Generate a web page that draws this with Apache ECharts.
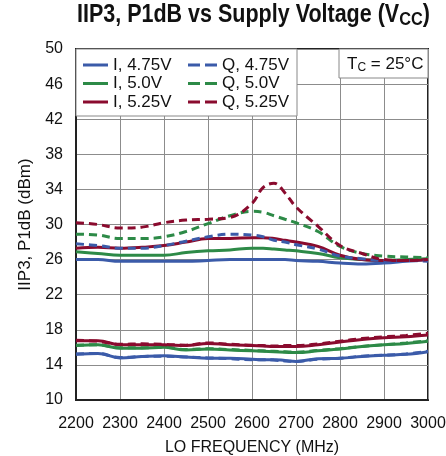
<!DOCTYPE html>
<html>
<head>
<meta charset="utf-8">
<script src="https://cdn.jsdelivr.net/npm/echarts@6/dist/echarts.min.js"></script>
<style>
  html, body { margin: 0; padding: 0; background: #fff; }
  #chart { width: 446px; height: 456px; }
</style>
</head>
<body>
<div id="chart"></div>
<script>
// LO frequency sample points (MHz)
const freqs = [2200, 2250, 2300, 2350, 2400, 2450, 2500, 2550, 2600, 2625, 2650, 2675, 2700, 2750, 2800, 2850, 2900, 2950, 3000];

// IIP3 (dBm)
const iip3_I_475 = [26.0, 26.0, 25.8, 25.8, 25.8, 25.8, 25.9, 26.0, 26.0, 26.0, 26.0, 26.0, 25.9, 25.8, 25.6, 25.5, 25.6, 25.8, 26.0];
const iip3_I_500 = [26.9, 26.7, 26.5, 26.5, 26.5, 26.8, 27.0, 27.1, 27.3, 27.3, 27.2, 27.1, 27.0, 26.7, 26.2, 26.0, 25.9, 26.0, 26.1];
const iip3_I_525 = [27.3, 27.4, 27.3, 27.4, 27.6, 28.0, 28.4, 28.4, 28.5, 28.5, 28.4, 28.2, 28.0, 27.5, 26.5, 26.0, 25.9, 25.9, 26.0];
const iip3_Q_475 = [27.8, 27.6, 27.3, 27.3, 27.6, 28.1, 28.6, 28.9, 28.8, 28.6, 28.2, 28.0, 27.7, 27.2, 26.4, 26.1, 25.9, 25.9, 25.8];
const iip3_Q_500 = [28.9, 28.8, 28.4, 28.4, 28.6, 29.2, 30.1, 31.0, 31.5, 31.4, 31.0, 30.6, 30.2, 29.2, 27.5, 26.7, 26.4, 26.3, 26.2];
const iip3_Q_525 = [30.2, 30.0, 29.6, 29.7, 30.2, 30.5, 30.6, 30.8, 32.4, 34.2, 34.7, 33.6, 32.0, 29.8, 27.6, 26.7, 26.0, 25.9, 26.0];

// P1dB (dBm)
const p1db_I_475 = [15.2, 15.3, 14.8, 14.95, 15.05, 14.9, 14.75, 14.75, 14.65, 14.6, 14.6, 14.5, 14.4, 14.7, 14.75, 14.95, 15.1, 15.2, 15.5];
const p1db_I_500 = [16.2, 16.3, 15.9, 15.9, 16.0, 15.7, 15.8, 15.7, 15.6, 15.55, 15.5, 15.45, 15.4, 15.6, 15.8, 16.1, 16.3, 16.45, 16.7];
const p1db_I_525 = [16.75, 16.75, 16.3, 16.3, 16.3, 16.2, 16.45, 16.3, 16.2, 16.15, 16.1, 16.1, 16.1, 16.3, 16.6, 16.9, 17.1, 17.2, 17.4];
const p1db_Q_475 = [15.25, 15.3, 14.85, 14.95, 15.0, 14.9, 14.8, 14.7, 14.6, 14.6, 14.55, 14.45, 14.4, 14.65, 14.75, 15.0, 15.1, 15.25, 15.55];
const p1db_Q_500 = [16.25, 16.3, 15.95, 15.95, 16.0, 15.75, 15.85, 15.75, 15.65, 15.6, 15.55, 15.5, 15.45, 15.65, 15.85, 16.1, 16.3, 16.5, 16.75];
const p1db_Q_525 = [16.8, 16.7, 16.35, 16.4, 16.35, 16.25, 16.5, 16.35, 16.25, 16.2, 16.15, 16.2, 16.2, 16.4, 16.7, 17.0, 17.2, 17.35, 17.6];

const seriesNames = ['I, 4.75V', 'I, 5.0V', 'I, 5.25V', 'Q, 4.75V', 'Q, 5.0V', 'Q, 5.25V'];
const yTicks = [10, 14, 18, 22, 26, 30, 34, 38, 42, 46, 50];
const xTicks = [2200, 2300, 2400, 2500, 2600, 2700, 2800, 2900, 3000];

const BLUE = '#3b5ba9';
const GREEN = '#2d8a47';
const RED = '#8a0b2e';
const FONT = '"Liberation Sans", Arial, sans-serif';

// legend swatches: a solid bar and a two-dash bar
const SOLID_ICON = 'path://M0,0h25v3h-25z';
const DASH_ICON = 'path://M0,0h12v3h-12zM17,0h12v3h-12z';

const pairs = (vals) => freqs.map((f, i) => [f, vals[i]]);

const curves = [
  { name: 'I, 4.75V', color: BLUE, dash: 'solid', iip3: iip3_I_475, p1db: p1db_I_475 },
  { name: 'I, 5.0V', color: GREEN, dash: 'solid', iip3: iip3_I_500, p1db: p1db_I_500 },
  { name: 'I, 5.25V', color: RED, dash: 'solid', iip3: iip3_I_525, p1db: p1db_I_525 },
  { name: 'Q, 4.75V', color: BLUE, dash: [8, 5], iip3: iip3_Q_475, p1db: p1db_Q_475 },
  { name: 'Q, 5.0V', color: GREEN, dash: [8, 5], iip3: iip3_Q_500, p1db: p1db_Q_500 },
  { name: 'Q, 5.25V', color: RED, dash: [8, 5], iip3: iip3_Q_525, p1db: p1db_Q_525 }
];

const series = [];
curves.forEach((c) => {
  ['iip3', 'p1db'].forEach((k) => {
    series.push({
      name: c.name,
      type: 'line',
      data: pairs(c[k]),
      symbol: 'none',
      smooth: 0.4,
      color: c.color,
      itemStyle: { color: c.color },
      lineStyle: { color: c.color, width: 3, type: c.dash },
      z: 3
    });
  });
});

// curve group labels
series.push({
  type: 'line',
  data: [],
  symbol: 'none',
  markPoint: {
    symbol: 'none',
    label: { show: true, color: '#111', fontFamily: FONT, fontSize: 16, position: 'inside' },
    data: [
      { coord: [2592, 36.2], value: 'IIP3', label: { formatter: 'IIP3' } },
      { coord: [2593, 18.1], value: 'P1dB', label: { formatter: 'P1dB', backgroundColor: '#fff', padding: [0, 4, 0, 4] } }
    ]
  }
});

const legendText = { fontFamily: FONT, fontSize: 17, color: '#111', lineHeight: 18 };

const chart = echarts.init(document.getElementById('chart'), null, { renderer: 'canvas' });

chart.setOption({
  animation: false,
  backgroundColor: '#fff',
  grid: {
    left: 76, right: 18, top: 49, bottom: 56,
    outerBoundsMode: 'none',
    containLabel: false,
    show: true, borderColor: '#222', borderWidth: 2, backgroundColor: 'transparent'
  },
  legend: [
    {
      data: seriesNames.slice(0, 3).map((n) => ({ name: n, icon: SOLID_ICON })),
      orient: 'vertical',
      left: 83, top: 56, padding: 0,
      itemWidth: 25, itemHeight: 3, itemGap: 0.5,
      textStyle: legendText,
      z: 6
    },
    {
      data: seriesNames.slice(3).map((n) => ({ name: n, icon: DASH_ICON })),
      orient: 'vertical',
      left: 188, top: 56, padding: 0,
      itemWidth: 29, itemHeight: 3, itemGap: 0.5,
      textStyle: legendText,
      z: 6
    }
  ],
  graphic: [
    {
      type: 'text', z: 5,
      x: 77, y: 0,
      scaleX: 0.86,
      style: {
        text: '{b|IIP3, P1dB vs Supply Voltage (V}{s|CC}{b|)}',
        rich: {
          b: { fontFamily: FONT, fontWeight: 'bold', fontSize: 25, fill: '#111', lineHeight: 30 },
          s: { fontFamily: FONT, fontWeight: 'bold', fontSize: 19, fill: '#111', lineHeight: 30, padding: [10, 0, 0, 0] }
        }
      }
    },
    {
      type: 'rect', z: 1,
      shape: { x: 76, y: 49, width: 221, height: 67 },
      style: { fill: '#fff', stroke: '#888', lineWidth: 1 }
    },
    {
      type: 'rect', z: 1,
      shape: { x: 339, y: 49, width: 89, height: 29 },
      style: { fill: '#fff', stroke: '#888', lineWidth: 1 }
    },
    {
      type: 'text', z: 5,
      left: 347, top: 54,
      style: {
        text: '{t|T}{c|C}{t| = 25°C}',
        rich: {
          t: { fontFamily: FONT, fontSize: 17, fill: '#111', lineHeight: 20 },
          c: { fontFamily: FONT, fontSize: 12, fill: '#111', lineHeight: 20, padding: [8, 0, 0, 0] }
        }
      }
    }
  ],
  xAxis: {
    type: 'value',
    min: xTicks[0], max: xTicks[xTicks.length - 1], interval: 100,
    name: 'LO FREQUENCY (MHz)',
    nameLocation: 'middle',
    nameGap: 40,
    nameTextStyle: { fontFamily: FONT, fontSize: 16, color: '#111' },
    axisLine: { show: true, lineStyle: { color: '#222', width: 2 } },
    axisTick: { show: false },
    axisLabel: { fontFamily: FONT, fontSize: 16, color: '#111', margin: 16, formatter: (v) => String(v) },
    splitLine: { show: true, lineStyle: { color: '#8c8c8c', width: 1 } }
  },
  yAxis: {
    type: 'value',
    min: yTicks[0], max: yTicks[yTicks.length - 1], interval: 4,
    name: 'IIP3, P1dB (dBm)',
    nameLocation: 'middle',
    nameGap: 37,
    nameTextStyle: { fontFamily: FONT, fontSize: 17, color: '#111' },
    axisLine: { show: true, lineStyle: { color: '#222', width: 2 } },
    axisTick: { show: false },
    axisLabel: { fontFamily: FONT, fontSize: 16, color: '#111', margin: 13 },
    splitLine: { show: true, lineStyle: { color: '#8c8c8c', width: 1 } }
  },
  series: series
});
</script>
</body>
</html>
